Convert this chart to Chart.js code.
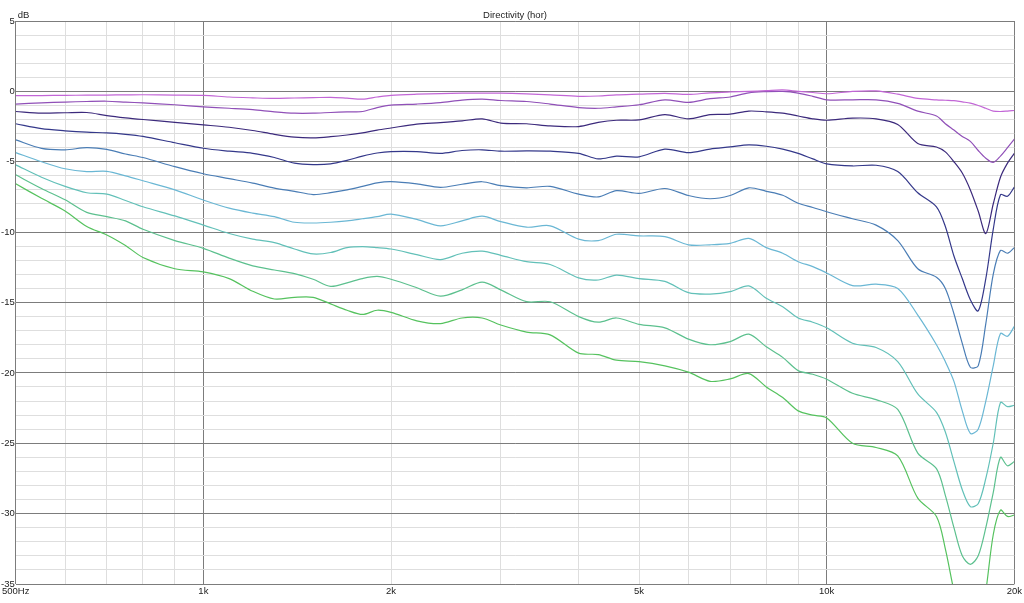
<!DOCTYPE html>
<html>
<head>
<meta charset="utf-8">
<script src="https://cdn.jsdelivr.net/npm/chart.js@4.4.0/dist/chart.umd.min.js"></script>
<style>
html, body { margin: 0; padding: 0; background: #fff; }
</style>
</head>
<body>
<canvas id="dirChart" width="1024" height="603"></canvas>
<script>
// frequency points (Hz) shared by all curves
const freqs = [500, 550, 600, 650, 700, 750, 800, 900,
  1000, 1100, 1200, 1300, 1400, 1500, 1600, 1700, 1800, 1900,
  2000, 2200, 2400, 2600, 2800, 3000, 3300, 3600, 4000, 4300, 4600,
  5000, 5500, 6000, 6500, 7000, 7500, 8000, 8500, 9000, 9500,
  10000, 11000, 12000, 13000, 14000,
  15000, 15500, 16000, 16500, 17000, 17500, 18000, 18500, 19000, 19500, 20000];

// one curve per angle, dB relative to on-axis
const curve1 = [-0.3, -0.3, -0.28, -0.27, -0.26, -0.25, -0.24, -0.26,
  -0.28, -0.4, -0.46, -0.5, -0.47, -0.45, -0.42, -0.48, -0.55, -0.4,
  -0.28, -0.2, -0.16, -0.13, -0.13, -0.13, -0.18, -0.25, -0.35, -0.33, -0.25,
  -0.2, -0.14, -0.22, -0.1, -0.04, 0, 0.05, 0.1, 0, -0.08,
  -0.17, 0, 0.03, -0.2, -0.5,
  -0.6, -0.63, -0.66, -0.75, -0.83, -1.0, -1.2, -1.4, -1.43, -1.4, -1.36];
const curve2 = [-0.9, -0.82, -0.76, -0.72, -0.7, -0.76, -0.82, -0.95,
  -1.1, -1.2, -1.3, -1.45, -1.55, -1.55, -1.5, -1.46, -1.43, -1.15,
  -0.97, -0.9, -0.8, -0.62, -0.55, -0.65, -0.72, -0.9, -1.15, -1.2, -1.1,
  -0.95, -0.6, -0.78, -0.52, -0.4, -0.1, -0.02, 0, -0.12, -0.35,
  -0.6, -0.6, -0.6, -0.85, -1.4,
  -1.75, -2.3, -2.75, -3.2, -3.55, -4.2, -4.75, -5.05, -4.6, -4.0, -3.4];
const curve3 = [-1.43, -1.55, -1.52, -1.5, -1.72, -1.88, -2.0, -2.2,
  -2.38, -2.55, -2.78, -3.05, -3.25, -3.3, -3.22, -3.1, -2.95, -2.75,
  -2.6, -2.33, -2.22, -2.1, -1.95, -2.25, -2.3, -2.45, -2.5, -2.2, -2.05,
  -2.03, -1.65, -1.95, -1.65, -1.62, -1.4, -1.45, -1.55, -1.75, -1.95,
  -2.05, -1.9, -1.95, -2.35, -3.7,
  -3.95, -4.3, -5.0, -5.8, -7.0, -8.5, -10.1, -8.0, -6.1, -5.1, -4.4];
const curve4 = [-2.3, -2.65, -2.8, -2.9, -2.95, -3.05, -3.2, -3.65,
  -4.04, -4.25, -4.4, -4.7, -5.1, -5.2, -5.15, -4.9, -4.6, -4.38,
  -4.28, -4.28, -4.4, -4.2, -4.15, -4.25, -4.23, -4.25, -4.4, -4.8, -4.6,
  -4.65, -4.1, -4.35, -4.1, -3.95, -3.8, -3.9, -4.1, -4.4, -4.8,
  -5.15, -5.3, -5.25, -5.7, -7.2,
  -8.2, -9.6, -11.7, -13.3, -14.8, -15.6, -13.3, -9.8, -7.35, -7.45, -6.8];
const curve5 = [-3.45, -4.05, -4.15, -4.0, -4.12, -4.45, -4.7, -5.35,
  -5.85, -6.2, -6.52, -6.87, -7.1, -7.33, -7.2, -7.0, -6.75, -6.5,
  -6.41, -6.57, -6.82, -6.6, -6.42, -6.7, -6.85, -6.75, -7.3, -7.5, -7.05,
  -7.25, -6.9, -7.4, -7.63, -7.4, -6.85, -7.1, -7.38, -7.95, -8.25,
  -8.55, -9.05, -9.5, -10.6, -12.6,
  -13.2, -14.0, -15.8, -17.9, -19.6, -19.5, -16.5, -13.0, -11.3, -11.5, -11.1];
const curve6 = [-4.35, -5.0, -5.5, -5.7, -5.68, -6.0, -6.35, -7.0,
  -7.72, -8.3, -8.65, -8.9, -9.3, -9.35, -9.3, -9.2, -9.05, -8.9,
  -8.72, -9.1, -9.55, -9.2, -8.87, -9.25, -9.65, -9.55, -10.5, -10.6, -10.15,
  -10.27, -10.32, -10.9, -10.9, -10.8, -10.45, -11.1, -11.5, -12.1, -12.45,
  -12.9, -13.8, -13.7, -14.0, -15.9,
  -18.0, -19.2, -20.6, -22.7, -24.3, -24.0, -22.0, -19.5, -17.2, -17.4, -16.7];
const curve7 = [-5.22, -6.1, -6.75, -7.2, -7.3, -7.75, -8.2, -8.85,
  -9.5, -10.1, -10.5, -10.75, -11.2, -11.55, -11.45, -11.1, -11.03, -11.1,
  -11.2, -11.6, -11.95, -11.5, -11.35, -11.65, -12.1, -12.3, -13.25, -13.4, -13.05,
  -13.3, -13.5, -14.3, -14.4, -14.23, -13.82, -14.7, -15.3, -16.1, -16.4,
  -16.8, -17.9, -18.2, -19.2, -21.5,
  -22.8, -24.2, -26.3, -28.3, -29.5, -29.3, -27.5, -25.0, -22.1, -22.4, -22.3];
const curve8 = [-5.93, -6.9, -7.7, -8.6, -8.9, -9.2, -9.8, -10.6,
  -11.15, -11.85, -12.4, -12.69, -12.95, -13.35, -13.85, -13.6, -13.3, -13.15,
  -13.35, -13.95, -14.55, -14.1, -13.55, -14.1, -14.94, -14.95, -16.0, -16.4, -16.1,
  -16.55, -16.8, -17.6, -18.0, -17.78, -17.25, -18.15, -18.9, -19.84, -20.1,
  -20.45, -21.45, -21.9, -22.6, -25.7,
  -26.8, -28.7, -31.0, -33.0, -33.6, -33.0, -31.0, -28.5, -26.0, -26.6, -26.3];
const curve9 = [-6.57, -7.6, -8.5, -9.6, -10.2, -10.95, -11.8, -12.6,
  -12.82, -13.3, -14.2, -14.75, -14.63, -14.63, -15.1, -15.55, -15.85, -15.55,
  -15.7, -16.3, -16.5, -16.1, -16.1, -16.6, -17.1, -17.3, -18.6, -18.7, -19.1,
  -19.2, -19.5, -19.95, -20.6, -20.43, -20.05, -21.0, -21.75, -22.7, -23.0,
  -23.2, -25.0, -25.3, -25.9, -28.9,
  -30.2, -32.5, -35.5, -38.0, -39.0, -38.5, -35.5, -31.5, -29.75, -30.2, -30.1];

const curves = [curve1, curve2, curve3, curve4, curve5, curve6, curve7, curve8, curve9];
const curveColors = ['#c266d6', '#9050b8', '#3c2a7c', '#34388a', '#4a7db5',
  '#6ab7d4', '#62c0b8', '#5cc08e', '#55c25e'];

// axes
const freqGrid = [500, 600, 700, 800, 900, 1000, 2000, 3000, 4000, 5000,
  6000, 7000, 8000, 9000, 10000, 20000];
const freqLabels = {500: '500Hz', 1000: '1k', 2000: '2k', 5000: '5k', 10000: '10k', 20000: '20k'};
const dbGrid = [5, 4, 3, 2, 1, 0, -1, -2, -3, -4, -5, -6, -7, -8, -9, -10,
  -11, -12, -13, -14, -15, -16, -17, -18, -19, -20, -21, -22, -23, -24, -25,
  -26, -27, -28, -29, -30, -31, -32, -33, -34, -35];
const chartTitle = 'Directivity (hor)';

const uiFont = '"Liberation Sans", Arial, sans-serif';
const majorGrid = '#7c7c7c';
const minorGrid = '#dedede';

const extraLabels = {
    id: 'extraLabels',
    afterDraw(chart) {
        const ctx = chart.ctx;
        const area = chart.chartArea;
        ctx.save();
        ctx.fillStyle = '#222';
        ctx.font = '9.5px ' + uiFont;
        ctx.textAlign = 'center';
        ctx.fillText(chartTitle, (area.left + area.right) / 2, 18);
        ctx.textAlign = 'left';
        ctx.fillText('dB', area.left + 2, 18);
        ctx.restore();
    }
};

new Chart(document.getElementById('dirChart'), {
    type: 'line',
    data: {
        datasets: curves.map((vals, i) => ({
            data: vals.map((v, j) => ({x: freqs[j], y: v})),
            borderColor: curveColors[i],
            borderWidth: 1.2,
            pointRadius: 0,
            tension: 0.3,
            fill: false
        }))
    },
    options: {
        responsive: false,
        animation: false,
        events: [],
        layout: {padding: {top: 21, right: 8, left: 0, bottom: 0}},
        plugins: {
            legend: {display: false},
            tooltip: {enabled: false}
        },
        scales: {
            x: {
                type: 'logarithmic',
                min: 500,
                max: 20000,
                afterBuildTicks: s => { s.ticks = freqGrid.map(v => ({value: v})); },
                afterFit: s => { s.height = 19; },
                border: {display: false},
                grid: {
                    drawTicks: false,
                    lineWidth: 1,
                    color: c => (c.tick && [500, 1000, 10000, 20000].includes(c.tick.value)) ? majorGrid : minorGrid
                },
                ticks: {
                    autoSkip: false,
                    maxRotation: 0,
                    minRotation: 0,
                    padding: 2,
                    color: '#222',
                    font: {family: uiFont, size: 9.5},
                    callback: v => freqLabels[v] || ''
                }
            },
            y: {
                min: -35,
                max: 5,
                afterBuildTicks: s => { s.ticks = dbGrid.map(v => ({value: v})); },
                afterFit: s => { s.width = 15; },
                border: {display: false},
                grid: {
                    drawTicks: false,
                    lineWidth: 1,
                    color: c => (c.tick && c.tick.value % 5 === 0) ? majorGrid : minorGrid
                },
                ticks: {
                    autoSkip: false,
                    padding: 1,
                    color: '#222',
                    font: {family: uiFont, size: 9.5},
                    callback: v => (v % 5 === 0 ? String(v) : '')
                }
            }
        }
    },
    plugins: [extraLabels]
});
</script>
</body>
</html>
